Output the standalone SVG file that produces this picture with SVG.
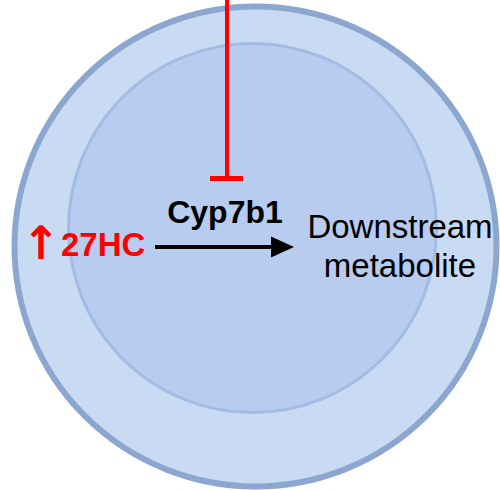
<svg xmlns="http://www.w3.org/2000/svg" width="500" height="490" viewBox="0 0 500 490">
<defs>
<style>
.cell{fill:#C9DBF2;stroke:#8BA6CF;stroke-width:6}
.nuc{fill:#B7CCEF;stroke:#A3BCE3;stroke-width:3}
.lbl{font-family:"Liberation Sans",Arial,sans-serif;font-size:32px}
.bold{font-weight:bold}
.red{fill:#FF0000}
.arr{font-family:"DejaVu Sans",sans-serif;font-size:46px;font-weight:bold}
</style>
</defs>
<rect width="500" height="490" fill="#fff"/>
<g id="cell"><ellipse class="cell" cx="255.5" cy="246.5" rx="241" ry="240"/></g>
<g id="nucleus"><ellipse class="nuc" cx="252.5" cy="228" rx="184" ry="184.5"/></g>
<g id="connectors">
<line x1="227" y1="0" x2="227" y2="177" stroke="#FF0000" stroke-width="4"/>
<line x1="210" y1="178.5" x2="243" y2="178.5" stroke="#FF0000" stroke-width="5"/>
<line x1="155" y1="247" x2="273" y2="247" stroke="#000" stroke-width="4"/>
<path d="M271,236.5 L294,247 L271,257.5 Z" fill="#000"/>
</g>
<g id="n27HC">
<text class="arr red" x="41" y="259" text-anchor="middle">↑</text>
<text class="lbl bold red" x="61" y="256" style="font-size:33px">27HC</text>
</g>
<g id="enzyme"><text class="lbl bold" x="225" y="223" text-anchor="middle" fill="#000">Cyp7b1</text></g>
<g id="downstream">
<text class="lbl" x="400" y="238" text-anchor="middle" fill="#000" style="font-size:33px">Downstream</text>
<text class="lbl" x="400" y="277" text-anchor="middle" fill="#000" style="font-size:33px">metabolite</text>
</g>
</svg>
